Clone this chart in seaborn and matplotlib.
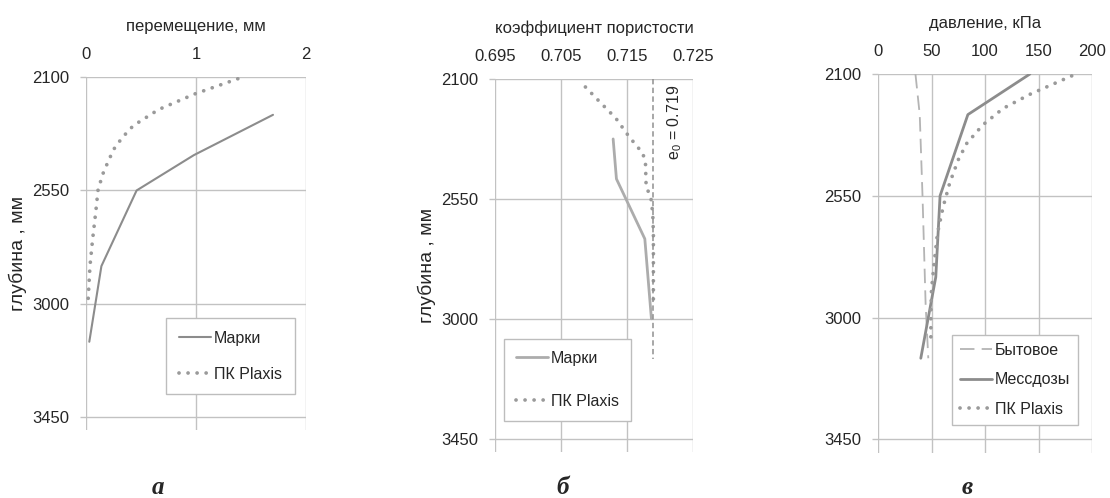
import matplotlib
matplotlib.use("Agg")
import matplotlib.pyplot as plt
import seaborn as sns

# panel a: displacement vs depth
a_mark_depth = [2250, 2410, 2550, 2850, 3150]
a_mark_disp = [1.70, 0.98, 0.46, 0.14, 0.03]
a_plaxis_depth = [2107, 2167, 2229, 2293, 2340, 2388, 2476, 2546, 2638, 2744, 2850, 2978]
a_plaxis_disp = [1.38, 0.99, 0.66, 0.43, 0.33, 0.25, 0.16, 0.11, 0.088, 0.06, 0.036, 0.02]

# panel b: void ratio vs depth
b_mark_depth = [2325, 2475, 2700, 3000]
b_mark_e = [0.7129, 0.7134, 0.7177, 0.7187]
b_plaxis_depth = [2130, 2184, 2247, 2316, 2379, 2417, 2505, 2542, 2605, 2681, 2806, 2950]
b_plaxis_e = [0.7087, 0.7108, 0.7133, 0.7153, 0.7174, 0.7178, 0.7179, 0.7186, 0.7189, 0.7190, 0.7190, 0.7190]
e0 = 0.719
e0_depth = [2100, 3150]

# panel c: pressure vs depth
c_byt_depth = [2100, 2250, 2550, 2950, 3150]
c_byt_p = [35, 39, 41.6, 44.5, 47]
c_mess_depth = [2100, 2250, 2550, 2850, 3150]
c_mess_p = [142, 84, 58, 54, 40]
c_plaxis_depth = [2107, 2175, 2227, 2288, 2356, 2417, 2503, 2589, 2688, 2798, 2897, 2995, 3085]
c_plaxis_p = [181, 142, 117, 98, 83, 75, 67, 61, 55.6, 52.5, 50, 49.4, 49.4]

depth_ticks = [2100, 2550, 3000, 3450]

sns.set_style("white")
plt.rcParams["font.family"] = ["Liberation Sans", "DejaVu Sans"]
plt.rcParams["mathtext.fontset"] = "custom"
plt.rcParams["mathtext.rm"] = "Liberation Sans"
plt.rcParams["font.size"] = 12

GRID = "#c2c2c2"
DOT = dict(linestyle=(0, (0.01, 2.4)), dash_capstyle="round", linewidth=2.7, color="#9a9a9a")

fig = plt.figure(figsize=(11.1, 4.98), dpi=100)
ax_a = fig.add_axes([86 / 1110, 1 - 430 / 498, 220 / 1110, 353 / 498])
ax_b = fig.add_axes([495 / 1110, 1 - 452 / 498, 198 / 1110, 373 / 498])
ax_c = fig.add_axes([878 / 1110, 1 - 453 / 498, 214 / 1110, 379 / 498])


def style_axes(ax, xlim, xticks, xlabels, xtitle, ylabel=True):
    ax.set_xlim(*xlim)
    ax.set_ylim(3500, 2100)
    ax.set_xticks(xticks)
    ax.set_xticklabels(xlabels)
    ax.set_yticks(depth_ticks)
    ax.xaxis.tick_top()
    ax.xaxis.set_label_position("top")
    ax.set_xlabel(xtitle, labelpad=11, fontsize=12)
    if ylabel:
        ax.set_ylabel("глубина , мм", labelpad=4, fontsize=14)
    else:
        ax.set_ylabel("")
    for s in ax.spines.values():
        s.set_visible(False)
    ax.grid(True, color=GRID, linewidth=1)
    ax.tick_params(axis="x", length=0, pad=11, labelsize=12)
    ax.tick_params(axis="y", length=4, color=GRID, width=1, pad=8, labelsize=12, left=True)
    ax.set_axisbelow(True)


def add_legend(ax, handles, labels, anchor, spacing, pad):
    leg = ax.legend(handles, labels, loc="upper left", bbox_to_anchor=anchor,
                    bbox_transform=fig.transFigure, borderaxespad=0, frameon=True,
                    fancybox=False, edgecolor="#bdbdbd", framealpha=1, fontsize=11.5,
                    labelspacing=spacing, handlelength=2.0, handletextpad=0.2,
                    borderpad=pad)
    leg.get_frame().set_linewidth(1)


# --- a ---
sns.lineplot(x=a_mark_disp, y=a_mark_depth, sort=False, estimator=None, ax=ax_a,
             color="#8c8c8c", linewidth=1.5)
sns.lineplot(x=a_plaxis_disp, y=a_plaxis_depth, sort=False, estimator=None, ax=ax_a, **DOT)
style_axes(ax_a, (0, 2), [0, 1, 2], ["0", "1", "2"], "перемещение, мм")
add_legend(ax_a, ax_a.get_lines()[:2], ["Марки", "ПК Plaxis"],
           (166 / 1110, 1 - 318 / 498), 1.3, 0.8)

# --- b ---
sns.lineplot(x=b_mark_e, y=b_mark_depth, sort=False, estimator=None, ax=ax_b,
             color="#acacac", linewidth=2)
sns.lineplot(x=b_plaxis_e, y=b_plaxis_depth, sort=False, estimator=None, ax=ax_b, **DOT)
ax_b.vlines(e0, e0_depth[0], e0_depth[1], colors="#8f8f8f", linewidth=1.1,
            linestyles=(0, (3.5, 2.2)))
ax_b.text(0.7222, 2262, r"e$_{\rm 0}$ = 0.719", rotation=90, ha="center", va="center",
          fontsize=11.5)
style_axes(ax_b, (0.695, 0.725), [0.695, 0.705, 0.715, 0.725],
           ["0.695", "0.705", "0.715", "0.725"], "коэффициент пористости")
add_legend(ax_b, ax_b.get_lines()[:2], ["Марки", "ПК Plaxis"],
           (504 / 1110, 1 - 339 / 498), 1.75, 0.75)

# --- c ---
sns.lineplot(x=c_byt_p, y=c_byt_depth, sort=False, estimator=None, ax=ax_c,
             color="#b4b4b4", linewidth=1.3, linestyle=(0, (8, 4)))
sns.lineplot(x=c_mess_p, y=c_mess_depth, sort=False, estimator=None, ax=ax_c,
             color="#8c8c8c", linewidth=2)
sns.lineplot(x=c_plaxis_p, y=c_plaxis_depth, sort=False, estimator=None, ax=ax_c, **DOT)
style_axes(ax_c, (0, 200), [0, 50, 100, 150, 200], ["0", "50", "100", "150", "200"],
           "давление, кПа", ylabel=False)
add_legend(ax_c, ax_c.get_lines()[:3], ["Бытовое", "Мессдозы", "ПК Plaxis"],
           (952 / 1110, 1 - 335 / 498), 0.9, 0.5)

for x, s in [(158, "а"), (563, "б"), (967, "в")]:
    fig.text(x / 1110, 1 - 494 / 498, s, ha="center", va="baseline",
             family=["Liberation Serif", "DejaVu Serif"], fontweight="bold",
             fontstyle="italic", fontsize=18)

fig.savefig("out.png", dpi=100)
